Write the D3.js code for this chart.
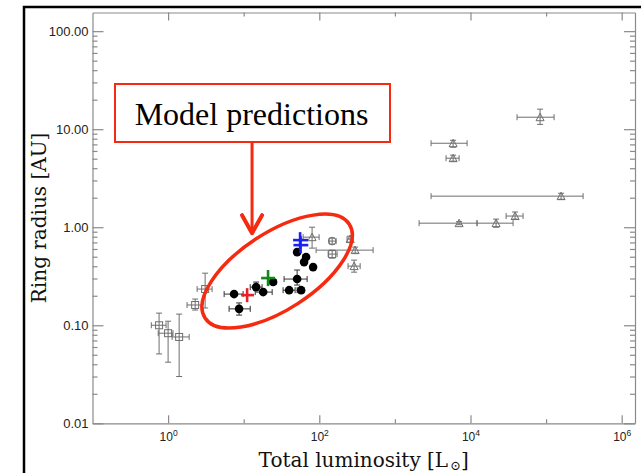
<!DOCTYPE html>
<html><head><meta charset="utf-8">
<script src="https://cdn.jsdelivr.net/npm/d3@7"></script>
<style>body{margin:0;background:#fff}svg{display:block}</style>
</head><body>
<svg id="c" width="641" height="473"></svg>
<script>
// ---------- data ----------
const xMajorTicks = [1, 100, 1e4, 1e6];
const xTickExponents = ["0", "2", "4", "6"];
const xMinorTicks = [10, 1000, 1e5];
const yMajorTicks = [0.01, 0.1, 1, 10, 100];
const yTickLabels = ["0.01", "0.10", "1.00", "10.00", "100.00"];

// open squares (grey)
const squarePoints = [
  {L: 0.76, L0: 0.60, L1: 0.94, R: 0.100, R0: 0.051, R1: 0.133},
  {L: 1.00, L0: 0.74, L1: 1.16, R: 0.083, R0: 0.042, R1: 0.110},
  {L: 1.40, L0: 1.13, L1: 1.90, R: 0.076, R0: 0.030, R1: 0.130},
  {L: 2.28, L0: 1.78, L1: 2.82, R: 0.161, R0: 0.143, R1: 0.185},
  {L: 3.09, L0: 2.42, L1: 3.82, R: 0.234, R0: 0.150, R1: 0.340},
  {L: 148, L0: 131, L1: 172, R: 0.532, R0: 0.484, R1: 0.584}
];
// open circle (grey)
const circlePoints = [
  {L: 148, L0: 135, L1: 167, R: 0.722, R0: 0.673, R1: 0.774}
];
// open triangles (grey)
const trianglePoints = [
  {L: 80.3, L0: 61.1, L1: 99.4, R: 0.792, R0: 0.612, R1: 1.00},
  {L: 298, L0: 90.7, L1: 515, R: 0.584, R0: 0.544, R1: 0.627},
  {L: 256, L0: 233, L1: 280, R: 0.757, R0: 0.705, R1: 0.811},
  {L: 289, L0: 240, L1: 347, R: 0.401, R0: 0.348, R1: 0.462},
  {L: 83300, L0: 41300, L1: 127600, R: 13.25, R0: 11.2, R1: 16.0},
  {L: 5890, L0: 3010, L1: 9020, R: 7.19, R0: 6.55, R1: 7.71},
  {L: 5890, L0: 4750, L1: 7070, R: 5.06, R0: 4.72, R1: 5.43},
  {L: 157900, L0: 3010, L1: 308600, R: 2.075, R0: 1.93, R1: 2.22},
  {L: 38900, L0: 29600, L1: 49600, R: 1.30, R0: 1.21, R1: 1.43},
  {L: 21800, L0: 12200, L1: 36600, R: 1.10, R0: 1.00, R1: 1.21},
  {L: 7070, L0: 2090, L1: 12200, R: 1.10, R0: 1.06, R1: 1.14}
];
// filled black circles
const blackPoints = [
  {L: 7.46, L0: 5.51, L1: 9.82, R: 0.208, R0: 0.208, R1: 0.208},
  {L: 8.69, L0: 6.41, L1: 12.2, R: 0.147, R0: 0.127, R1: 0.169},
  {L: 14.6, L0: 12.2, L1: 17.5, R: 0.245, R0: 0.229, R1: 0.276},
  {L: 18.1, L0: 14.2, L1: 23.8, R: 0.218, R0: 0.218, R1: 0.218},
  {L: 24.5, L0: 22.4, L1: 26.8, R: 0.276, R0: 0.276, R1: 0.276},
  {L: 50.9, L0: 34.2, L1: 69.0, R: 0.296, R0: 0.257, R1: 0.366},
  {L: 39.9, L0: 33.2, L1: 47.9, R: 0.228, R0: 0.228, R1: 0.228},
  {L: 57.5, L0: 50.9, L1: 62.9, R: 0.228, R0: 0.228, R1: 0.228},
  {L: 50.9, L0: 50.9, L1: 50.9, R: 0.557, R0: 0.557, R1: 0.557},
  {L: 66.9, L0: 61.0, L1: 72.0, R: 0.496, R0: 0.470, R1: 0.520},
  {L: 62.9, L0: 62.9, L1: 62.9, R: 0.441, R0: 0.441, R1: 0.441},
  {L: 82.8, L0: 82.8, L1: 82.8, R: 0.392, R0: 0.392, R1: 0.392}
];
// model predictions (coloured crosses)
const modelPoints = [
  {L: 11.1, L0: 9.24, L1: 13.7, R: 0.203, R0: 0.172, R1: 0.239, c: "#e8202a"},
  {L: 21.0, L0: 17.0, L1: 26.0, R: 0.303, R0: 0.251, R1: 0.366, c: "#118a1a"},
  {L: 55.7, L0: 45.0, L1: 71.1, R: 0.739, R0: 0.584, R1: 0.891, c: "#1a22f0"},
  {L: 56.5, L0: 45.5, L1: 71.5, R: 0.657, R0: 0.544, R1: 0.811, c: "#1a22f0"}
];
// annotation (data space anchors)
const ellipseCenter = {L: 27.7, R: 0.357};
const arrowTip = {L: 12.9, R: 0.87};
const annotationText = "Model predictions";

// ---------- layout ----------
const svg = d3.select("#c");
const M = {left: 92.5, top: 12.5, right: 635, bottom: 423.3};
const x = d3.scaleLog().domain([0.1, 1.5e6]).range([M.left, M.right]);
const y = d3.scaleLog().domain([0.01, 155]).range([M.bottom, M.top]);
const axisGrey = "#8a8a8a";
const dataGrey = "#6e6e6e";
const red = "#f52a10";

// outer frame
svg.append("rect").attr("x", 24).attr("y", 7).attr("width", 700).attr("height", 600)
  .attr("fill", "none").attr("stroke", "#000").attr("stroke-width", 2.5);

// axes
const yMinor = [];
for (let e = -2; e < 2; e++) for (let k = 2; k <= 9; k++) yMinor.push(k * Math.pow(10, e));

function styleAxis(g) {
  g.selectAll("path.domain").attr("stroke", axisGrey).attr("stroke-width", 1.2);
  g.selectAll(".tick line").attr("stroke", axisGrey).attr("stroke-width", 1.2);
}
// bottom
const gB = svg.append("g").attr("transform", `translate(0,${M.bottom})`)
  .call(d3.axisBottom(x).tickValues(xMajorTicks).tickSizeInner(-8).tickSizeOuter(0).tickFormat(""));
gB.call(g => g.append("g").call(d3.axisBottom(x).tickValues(xMinorTicks).tickSize(-4).tickFormat("")).select(".domain").remove());
styleAxis(gB);
gB.selectAll(".tick").filter(d => xMajorTicks.includes(d)).append("text")
  .attr("y", 18).attr("text-anchor", "middle").attr("fill", "#222")
  .style("font-family", "Liberation Sans, Arial, sans-serif").style("font-size", "12px")
  .each(function(d) {
    const t = d3.select(this);
    const idx = xMajorTicks.indexOf(d);
    t.append("tspan").text("10");
    t.append("tspan").attr("dy", -5).style("font-size", "8.5px").text(xTickExponents[idx]);
  });
// top
const gT = svg.append("g").attr("transform", `translate(0,${M.top})`)
  .call(d3.axisTop(x).tickValues(xMajorTicks).tickSizeInner(-8).tickSizeOuter(0).tickFormat(""));
gT.call(g => g.append("g").call(d3.axisTop(x).tickValues(xMinorTicks).tickSize(-4).tickFormat("")).select(".domain").remove());
styleAxis(gT);
// left
const gL = svg.append("g").attr("transform", `translate(${M.left},0)`)
  .call(d3.axisLeft(y).tickValues(yMajorTicks).tickSizeInner(-11).tickSizeOuter(0)
    .tickFormat((d, i) => yTickLabels[i]));
gL.call(g => g.append("g").call(d3.axisLeft(y).tickValues(yMinor).tickSize(-5).tickFormat("")).select(".domain").remove());
styleAxis(gL);
gL.selectAll(".tick text").attr("fill", "#222").attr("x", -4)
  .style("font-family", "Liberation Sans, Arial, sans-serif").style("font-size", "13px");
// right
const gR = svg.append("g").attr("transform", `translate(${M.right},0)`)
  .call(d3.axisRight(y).tickValues(yMajorTicks).tickSizeInner(-11).tickSizeOuter(0).tickFormat(""));
gR.call(g => g.append("g").call(d3.axisRight(y).tickValues(yMinor).tickSize(-5).tickFormat("")).select(".domain").remove());
styleAxis(gR);

// axis titles
svg.append("text").attr("x", (M.left + M.right) / 2).attr("y", 467).attr("text-anchor", "middle")
  .style("font-family", "DejaVu Serif, serif").style("font-size", "20px").attr("fill", "#111")
  .call(t => {
    t.append("tspan").text("Total luminosity [L");
    t.append("tspan").attr("dy", 3).attr("dx", 2).style("font-size", "13px").text("\u2299");
    t.append("tspan").attr("dy", -3).text("]");
  });
svg.append("text").attr("transform", `translate(46,${(M.top + M.bottom) / 2}) rotate(-90)`)
  .attr("text-anchor", "middle")
  .style("font-family", "DejaVu Serif, serif").style("font-size", "20px").attr("fill", "#111")
  .text("Ring radius [AU]");

// ---------- data marks ----------
const plot = svg.append("g");
function errorBars(data, color, width, cap) {
  const g = plot.append("g").attr("stroke", color).attr("stroke-width", width).attr("fill", "none");
  data.forEach(d => {
    const cx = x(d.L), cy = y(d.R);
    if (d.L0 !== d.L1) {
      g.append("line").attr("x1", x(d.L0)).attr("x2", x(d.L1)).attr("y1", cy).attr("y2", cy);
      if (cap) {
        g.append("line").attr("x1", x(d.L0)).attr("x2", x(d.L0)).attr("y1", cy - cap).attr("y2", cy + cap);
        g.append("line").attr("x1", x(d.L1)).attr("x2", x(d.L1)).attr("y1", cy - cap).attr("y2", cy + cap);
      }
    }
    if (d.R0 !== d.R1) {
      g.append("line").attr("x1", cx).attr("x2", cx).attr("y1", y(d.R0)).attr("y2", y(d.R1));
      if (cap) {
        g.append("line").attr("x1", cx - cap).attr("x2", cx + cap).attr("y1", y(d.R0)).attr("y2", y(d.R0));
        g.append("line").attr("x1", cx - cap).attr("x2", cx + cap).attr("y1", y(d.R1)).attr("y2", y(d.R1));
      }
    }
  });
}
errorBars(squarePoints, dataGrey, 1, 3);
errorBars(circlePoints, dataGrey, 1, 3);
errorBars(trianglePoints, dataGrey, 1, 3);
errorBars(blackPoints, "#333", 1, 3);

plot.append("g").selectAll("rect").data(squarePoints).join("rect")
  .attr("x", d => x(d.L) - 3.5).attr("y", d => y(d.R) - 3.5).attr("width", 7).attr("height", 7)
  .attr("fill", "none").attr("stroke", dataGrey).attr("stroke-width", 1);
plot.append("g").selectAll("circle").data(circlePoints).join("circle")
  .attr("cx", d => x(d.L)).attr("cy", d => y(d.R)).attr("r", 3.8)
  .attr("fill", "none").attr("stroke", dataGrey).attr("stroke-width", 1);
plot.append("g").selectAll("path").data(trianglePoints).join("path")
  .attr("transform", d => `translate(${x(d.L)},${y(d.R)})`)
  .attr("d", "M0,-4L4,3.5L-4,3.5Z")
  .attr("fill", "none").attr("stroke", dataGrey).attr("stroke-width", 1);
plot.append("g").selectAll("circle").data(blackPoints).join("circle")
  .attr("cx", d => x(d.L)).attr("cy", d => y(d.R)).attr("r", 4.3).attr("fill", "#000");

// model crosses
const mg = plot.append("g").attr("stroke-width", 2.6).attr("fill", "none");
modelPoints.forEach(d => {
  mg.append("line").attr("stroke", d.c).attr("x1", x(d.L0)).attr("x2", x(d.L1)).attr("y1", y(d.R)).attr("y2", y(d.R));
  mg.append("line").attr("stroke", d.c).attr("x1", x(d.L)).attr("x2", x(d.L)).attr("y1", y(d.R0)).attr("y2", y(d.R1));
});

// ---------- annotation ----------
const ecx = x(ellipseCenter.L), ecy = y(ellipseCenter.R);
svg.append("ellipse").attr("transform", `translate(${ecx},${ecy}) rotate(-33)`)
  .attr("rx", 86).attr("ry", 38.5).attr("fill", "none").attr("stroke", red).attr("stroke-width", 3.5);

const box = {x: 115, y: 84, w: 275, h: 58};
svg.append("rect").attr("x", box.x).attr("y", box.y).attr("width", box.w).attr("height", box.h)
  .attr("fill", "#fff").attr("stroke", red).attr("stroke-width", 2);
svg.append("text").attr("x", box.x + box.w / 2 - 1).attr("y", 125).attr("text-anchor", "middle")
  .style("font-family", "Liberation Serif, Times New Roman, serif").style("font-size", "32px").attr("fill", "#000")
  .text(annotationText);

const tx = x(arrowTip.L), ty = y(arrowTip.R);
const ag = svg.append("g").attr("stroke", red).attr("fill", "none").attr("stroke-linecap", "round").attr("stroke-linejoin", "round");
ag.append("line").attr("x1", tx).attr("x2", tx).attr("y1", box.y + box.h + 1).attr("y2", ty - 2).attr("stroke-width", 3);
ag.append("path").attr("d", `M${tx - 10},${ty - 18}L${tx},${ty}L${tx + 10},${ty - 18}`).attr("stroke-width", 4);
</script>
</body></html>
